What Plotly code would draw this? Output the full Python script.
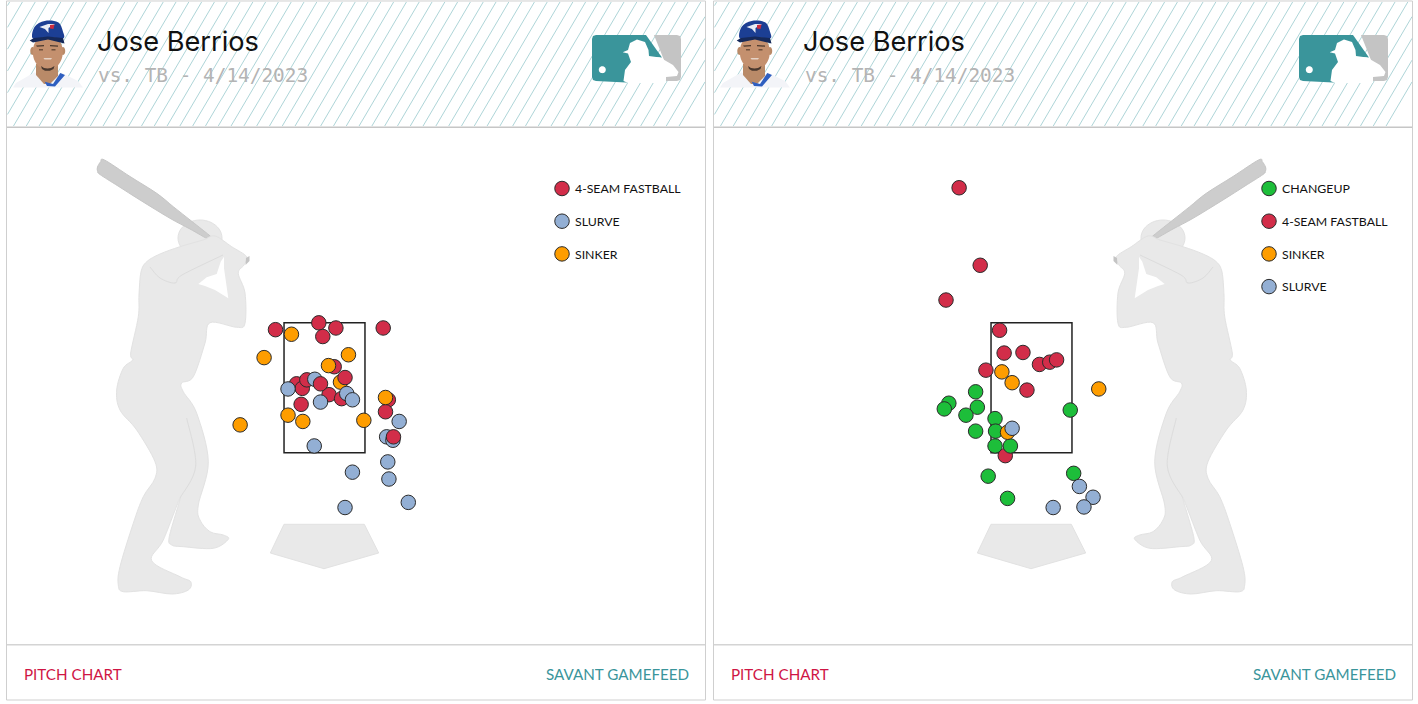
import numpy as np
import plotly.graph_objects as go

W, H = 1418, 704
PX_PER_FT = 57
PANEL_DX = 707  # right card is the left card moved over
MIRROR_X = 1363  # batter stands on the other side of the plate on the right

# pitch locations in feet, plate_x from middle of the plate, plate_z from the ground
# vs. LHB
left_ff_x = [-0.86, -0.10, 0.20, -0.03, 1.03, 0.17, -0.49, -0.39, -0.31, 0.08, 0.30, -0.41, 1.12, 1.07]
left_ff_z = [3.76, 3.88, 3.79, 3.64, 3.79, 3.11, 2.81, 2.73, 2.88, 2.62, 2.55, 2.45, 2.53, 2.32]
left_ff_late_x = [0.36, -0.07, 1.21]  # these three sit on top of the others
left_ff_late_z = [2.92, 2.81, 1.88]
left_si_x = [-0.58, -1.06, 0.42, 0.07, 0.28, 1.07, -0.64, -0.38, 0.69, -1.48]
left_si_z = [3.68, 3.27, 3.32, 3.13, 2.84, 2.57, 2.26, 2.15, 2.17, 2.09]
left_sv_x = [-0.17, -0.64, 0.39, 0.49, -0.07, 1.31, 1.09, 1.20, -0.18, 1.11, 0.49, 1.13, 1.47, 0.36]
left_sv_z = [2.89, 2.72, 2.64, 2.53, 2.49, 2.15, 1.88, 1.82, 1.72, 1.44, 1.26, 1.14, 0.73, 0.64]

# vs. RHB
right_ff_x = [-0.56, -0.48, -0.15, 0.14, 0.32, 0.44, -0.80, -0.08, -0.46, -1.27, -0.90, -1.50]
right_ff_z = [3.75, 3.35, 3.36, 3.15, 3.19, 3.23, 3.05, 2.70, 1.55, 6.25, 4.89, 4.28]
right_ch_x = [-0.98, -1.45, -1.53, -0.95, -1.15, 0.68, -0.64, -0.98, -0.63, -0.64, -0.37, 0.74, -0.76, -0.42]
right_ch_z = [2.67, 2.47, 2.37, 2.40, 2.26, 2.35, 2.20, 1.98, 1.98, 1.72, 1.72, 1.24, 1.19, 0.80]
right_si_x = [-0.52, -0.34, 1.18, -0.42]
right_si_z = [3.02, 2.83, 2.72, 1.96]
right_sv_x = [-0.34, 0.84, 1.08, 0.92, 0.38]
right_sv_z = [2.03, 1.01, 0.82, 0.65, 0.64]

zone_x = [-0.71, 0.71]
zone_z = [1.60, 3.88]

FF, SV, SI, CH = "#d22d49", "#93afd4", "#fe9d00", "#1dbe3a"

# outlines in page pixels, left card
bat = [(104.5, 160), (130, 176.5), (156.7, 193.3), (173.3, 206.7), (192, 221.5), (209, 235), (210.5, 237), (209, 239.5),
       (190, 229), (170, 218.3), (140, 200), (118, 186), (100, 174.5), (97.5, 171), (97.5, 167), (100.5, 162)]
body = [(180, 246.7), (160, 254), (146.7, 261.7), (141, 272), (139, 295), (138.3, 316.7), (130.7, 353),
        (132.7, 360), (123.3, 368.3), (116.7, 390), (120, 410), (136.7, 430), (155, 461.7), (155, 478.3),
        (143.3, 496.7), (133.3, 523.3), (120, 566.7), (118.3, 585), (123.3, 591.7), (146.7, 590.7),
        (171.7, 594), (188.3, 590), (190.7, 581.7), (180, 576.7), (151.7, 560.7), (163.3, 540), (180, 498.3),
        (169.3, 536.7), (171.7, 545), (183.3, 546.7), (213.3, 548.3), (228.3, 539.3), (223.3, 535),
        (210, 531.7), (200, 520), (198.3, 505), (208.3, 461.7), (196.7, 413.3), (183.3, 391.7), (181.7, 383),
        (193.3, 376.7), (205, 343), (210, 322.7), (236.7, 327.3), (245, 323.3), (245, 293), (238.3, 273.3),
        (244, 265), (246.7, 256.7), (231.7, 246.7), (215, 236), (203, 240)]
arm_gap = [(198.3, 284), (206.7, 277.3), (216.7, 274), (220.7, 261.7), (224, 256.7), (224, 268.3),
           (228.3, 298.3), (215, 290), (205, 286)]
knob = [(246, 258), (249.5, 256), (249.5, 261), (245.5, 265)]
shoulder_line = [(150, 267), (160, 278), (175, 283), (182, 275), (223, 255)]
leg_line = [(186.7, 418), (195.7, 466), (180, 498)]
plate = [(284, 524.3), (364.3, 524.3), (378.7, 553), (324, 568.7), (270.3, 553)]

shapes = []


def px_x(x):
    return x / W


def px_y(y):
    return 1 - y / H


def path(points, close=True):
    s = "M " + " L ".join(f"{px_x(x):.5f},{px_y(y):.5f}" for x, y in points)
    return s + " Z" if close else s


def smooth(points, close=True):
    # catmull-rom through the points
    n = len(points)
    s = f"M {px_x(points[0][0]):.5f},{px_y(points[0][1]):.5f}"
    for i in range(n if close else n - 1):
        if close:
            p0, p1, p2, p3 = points[i - 1], points[i], points[(i + 1) % n], points[(i + 2) % n]
        else:
            p0, p1, p2, p3 = points[max(i - 1, 0)], points[i], points[i + 1], points[min(i + 2, n - 1)]
        c1 = (p1[0] + (p2[0] - p0[0]) / 6, p1[1] + (p2[1] - p0[1]) / 6)
        c2 = (p2[0] - (p3[0] - p1[0]) / 6, p2[1] - (p3[1] - p1[1]) / 6)
        s += (f" C {px_x(c1[0]):.5f},{px_y(c1[1]):.5f} {px_x(c2[0]):.5f},{px_y(c2[1]):.5f}"
              f" {px_x(p2[0]):.5f},{px_y(p2[1]):.5f}")
    return s + (" Z" if close else "")


def ellipse(cx, cy, rx, ry, steps=24):
    a = np.linspace(0, 2 * np.pi, steps, endpoint=False)
    return [(cx + rx * np.cos(t), cy + ry * np.sin(t)) for t in a]


def add(d, fill=None, line=None, width=1):
    shapes.append(dict(type="path", path=d, xref="paper", yref="paper", layer="below",
                       fillcolor=fill if fill else "rgba(0,0,0,0)",
                       line=dict(color=line if line else "rgba(0,0,0,0)", width=width if line else 0)))


def rect(x0, y0, x1, y1, fill=None, line=None, width=1):
    add(path([(x0, y0), (x1, y0), (x1, y1), (x0, y1)]), fill, line, width)


def moved(points, dx):
    return [(x + dx, y) for x, y in points]


def card(dx):
    rect(6.5 + dx, 1, 705.5 + dx, 700, "white", "#cfcfcf", 1)
    # header hatching
    segs = []
    for k in range(-2, 60):
        c = 318 - 12.8 * 25 + 12.8 * k
        y0, y1 = 2.0, 126.0
        x0, x1 = c - y0 / 1.7, c - y1 / 1.7
        if x0 < 7.5:
            continue
        if x1 < 7.5:
            y1 = (c - 7.5) * 1.7
            x1 = 7.5
        if x1 > 705:
            continue
        if x0 > 705:
            y0 = (c - 705) * 1.7
            x0 = 705
        segs.append(path([(x0 + dx, y0), (x1 + dx, y1)], close=False))
    add(" ".join(segs), None, "#aed5d8", 1)
    rect(7 + dx, 126.5, 705 + dx, 128, "#c6c6c6")
    rect(7 + dx, 644, 705 + dx, 645.5, "#d4d4d4")
    add(path(moved(plate, dx)), "#e9e9e9", "#e2e2e2", 1)
    portrait(dx)
    logo(dx)


def batter(flip):
    f = (lambda pts: [(MIRROR_X - x, y) for x, y in pts]) if flip else (lambda pts: pts)
    add(smooth(f(ellipse(200, 238, 22, 18))), "#e9e9e9", "#e2e2e2", 1)
    add(smooth(f(bat)), "#cdcdcd", "#c6c6c6", 1)
    add(smooth(f(body)), "#e9e9e9", "#e2e2e2", 1)
    add(path(f(arm_gap)), "white")
    add(smooth(f(shoulder_line), close=False), None, "#dcdcdc", 1)
    add(smooth(f(leg_line), close=False), None, "#dcdcdc", 1)
    add(path(f(knob)), "#c4c4c4")


def portrait(dx):
    m = lambda pts: moved(pts, dx)
    add(path(m([(13, 87.5), (16, 83), (34.7, 72.3), (47, 80), (61, 72.5), (78, 81), (83, 87.5)])), "#f3f4f8")
    add(path(m([(36, 64), (58, 64), (58, 76), (50, 84), (44, 84), (36, 75)])), "#b98a68")
    add(path(m([(44.7, 81.7), (53, 84), (60.3, 73), (65, 75), (55, 86.5), (47, 86)])), "#2f5fc0")
    add(smooth(m(ellipse(32.5, 51, 2.2, 4))), "#b98a68")
    add(smooth(m(ellipse(63, 51, 2.2, 4))), "#b98a68")
    add(smooth(m(ellipse(47.8, 52, 15, 18))), "#c4906e")
    add(path(m([(41, 66), (44, 68), (47.5, 68.5), (51, 68), (54.5, 66), (53.5, 69), (50, 70.8), (45, 70.8), (42, 69)])),
        "#4a382e")
    add(path(m([(43.5, 58), (52, 58), (51, 59.6), (44.5, 59.6)])), "#e6d3c6")
    add(path(m([(36, 45.5), (44, 45), (44, 46.3), (37, 46.8)])), "#4a382e")
    add(path(m([(50, 45), (58, 45.5), (58, 46.8), (50, 46.3)])), "#4a382e")
    add(path(m([(39, 49.2), (43, 49.2), (43, 50.4), (39, 50.4)])), "#5a4031")
    add(path(m([(51.5, 49.2), (55.5, 49.2), (55.5, 50.4), (51.5, 50.4)])), "#5a4031")
    add(smooth(m([(33, 38.5), (34.7, 26.7), (44.7, 21), (58, 22.3), (63, 31.7), (63, 38.5), (48, 37)])), "#1c3f94")
    add(path(m([(29.7, 40.5), (34, 38), (48, 36.5), (63, 38), (64.5, 43.5), (48, 39.5), (33, 42.5)])), "#15295a")
    add(path(m([(39.5, 27), (48, 24), (55, 24), (48.5, 28), (48.5, 33), (45, 29)])), "#e8ecf5")
    add(path(m([(50, 25), (54.5, 24.5), (53.5, 29), (50, 28.5)])), "#cc2b3f")


def logo(dx):
    m = lambda pts: moved(pts, dx)
    add(path(m([(596, 35), (646, 35), (662, 57.5), (650, 57), (636, 83), (596, 81), (593, 80), (592, 77),
                (592, 39), (593, 36)])), "#3a959b")
    add(path(m([(654, 35), (677, 35), (680, 36), (681, 39), (681, 77), (680, 80), (677, 81), (664, 81),
                (664, 60)])), "#c4c4c4")
    # white batter on top
    add(path(m([(622.7, 52.3), (628, 50), (630, 43), (637, 39.5), (645, 42), (648.5, 50), (649, 56), (660, 57.5),
                (673, 65), (678.5, 72), (677, 76), (666, 77), (666, 83), (628, 83), (623.5, 81), (625, 70),
                (631, 62), (628, 53.5)])), "white")
    add(smooth(m(ellipse(602.3, 69.7, 3.5, 3.5))), "white")


card(0)
card(PANEL_DX)
batter(False)
batter(True)

# strike zones
for xref, yref in (("x", "y"), ("x2", "y2")):
    shapes.append(dict(type="rect", xref=xref, yref=yref, layer="below",
                       x0=zone_x[0], x1=zone_x[1], y0=zone_z[0], y1=zone_z[1],
                       line=dict(color="#222222", width=1.5)))


def pitches(x, z, name, color, subplot, legend, rank, show=True):
    ax, ay = subplot
    return go.Scatter(x=x, y=z, mode="markers", name=name, xaxis=ax, yaxis=ay, legend=legend,
                      legendgroup=legend + name, legendrank=rank, showlegend=show,
                      marker=dict(color=color, size=14.5, line=dict(color="#2b2b2b", width=1)))


fig = go.Figure()
fig.add_trace(pitches(left_ff_x, left_ff_z, "4-SEAM FASTBALL", FF, ("x", "y"), "legend", 1))
fig.add_trace(pitches(left_si_x, left_si_z, "SINKER", SI, ("x", "y"), "legend", 3))
fig.add_trace(pitches(left_sv_x, left_sv_z, "SLURVE", SV, ("x", "y"), "legend", 2))
fig.add_trace(pitches(left_ff_late_x, left_ff_late_z, "4-SEAM FASTBALL", FF, ("x", "y"), "legend", 1, show=False))
fig.add_trace(pitches(right_ff_x, right_ff_z, "4-SEAM FASTBALL", FF, ("x2", "y2"), "legend2", 2))
fig.add_trace(pitches(right_ch_x, right_ch_z, "CHANGEUP", CH, ("x2", "y2"), "legend2", 1))
fig.add_trace(pitches(right_si_x, right_si_z, "SINKER", SI, ("x2", "y2"), "legend2", 3))
fig.add_trace(pitches(right_sv_x, right_sv_z, "SLURVE", SV, ("x2", "y2"), "legend2", 4))

annotations = []
for dx in (0, PANEL_DX):
    for text, x, y, font, anchor in [
        ("Jose Berrios", 95.5, 41.5, dict(family="Inter", size=27.2, color="#111111"), "left"),
        ("vs. TB - 4/14/2023", 97, 75.5, dict(family="DejaVu Sans Mono", size=19.4, color="#b4b4b4"), "left"),
        ("PITCH CHART", 22.5, 673.5, dict(family="Lato", size=15.2, color="#cf1544"), "left"),
        ("SAVANT GAMEFEED", 689.5, 673.5, dict(family="Lato", size=15.2, color="#3a959b"), "right"),
    ]:
        annotations.append(dict(text=text, x=px_x(x + dx), y=px_y(y), xref="paper", yref="paper",
                                xanchor=anchor, yanchor="middle", showarrow=False, font=font, borderpad=0))


def pitch_axis(left_px, right_px, mid_px):
    return dict(domain=[left_px / W, right_px / W], visible=False, fixedrange=True,
                range=[(left_px - mid_px) / PX_PER_FT, (right_px - mid_px) / PX_PER_FT])


z_range = [(544 - 644) / PX_PER_FT, (544 - 128) / PX_PER_FT]
y_domain = [1 - 644 / H, 1 - 128 / H]
legend_style = dict(yanchor="top", xanchor="left", y=px_y(174), bgcolor="rgba(0,0,0,0)", borderwidth=0,
                    tracegroupgap=13.7, traceorder="grouped", itemclick=False, itemdoubleclick=False,
                    font=dict(family="Lato", size=12.3, color="#111111"))

fig.update_layout(
    width=W, height=H, margin=dict(l=0, r=0, t=0, b=0), autosize=False,
    paper_bgcolor="white", plot_bgcolor="rgba(0,0,0,0)",
    xaxis=pitch_axis(7, 705, 324.5),
    xaxis2=pitch_axis(7 + PANEL_DX, 705 + PANEL_DX, 324.5 + PANEL_DX),
    yaxis=dict(domain=y_domain, range=z_range, visible=False, fixedrange=True),
    yaxis2=dict(domain=y_domain, range=z_range, visible=False, fixedrange=True),
    legend=dict(x=px_x(542), **legend_style),
    legend2=dict(x=px_x(542 + PANEL_DX), **legend_style),
    shapes=shapes,
    annotations=annotations,
    showlegend=True,
    hovermode="closest",
)

# page margin off, legend text closer to its marker
post = """
document.body.style.margin = 0;
var st = document.createElement('style');
st.textContent = '.legendtext, .legend2text { transform: translateX(-7px); }';
document.head.appendChild(st);
"""
fig.write_html("out.html", post_script=post, config={"displayModeBar": False})
